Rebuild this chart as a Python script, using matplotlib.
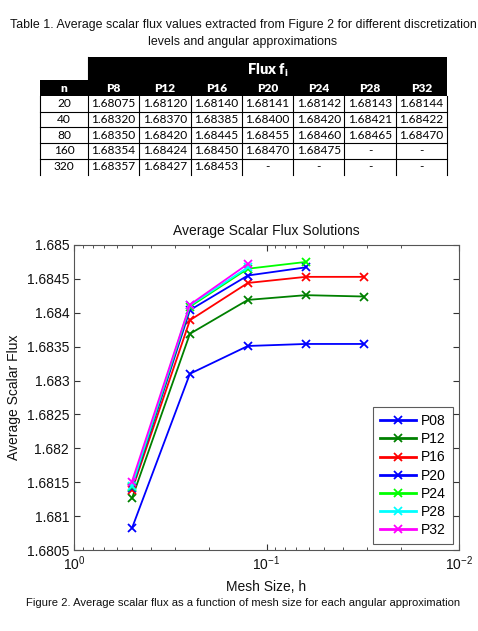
import matplotlib
matplotlib.use("Agg")
import matplotlib.pyplot as plt
from matplotlib.patches import Rectangle
from matplotlib.ticker import FormatStrFormatter, LogLocator, NullFormatter

# ---------------- data ----------------
table_n = ["20", "40", "80", "160", "320"]
table_cols = ["P8", "P12", "P16", "P20", "P24", "P28", "P32"]
table_rows = [
    ["1.68075", "1.68120", "1.68140", "1.68141", "1.68142", "1.68143", "1.68144"],
    ["1.68320", "1.68370", "1.68385", "1.68400", "1.68420", "1.68421", "1.68422"],
    ["1.68350", "1.68420", "1.68445", "1.68455", "1.68460", "1.68465", "1.68470"],
    ["1.68354", "1.68424", "1.68450", "1.68470", "1.68475", "-", "-"],
    ["1.68357", "1.68427", "1.68453", "-", "-", "-", "-"],
]

mesh_h = [0.5, 0.25, 0.125, 0.0625, 0.03125]
series_names = ["P08", "P12", "P16", "P20", "P24", "P28", "P32"]
p08 = [1.68082, 1.68310, 1.68351, 1.68354, 1.68354]
p12 = [1.68126, 1.68369, 1.68419, 1.68426, 1.68424]
p16 = [1.68138, 1.68389, 1.68444, 1.68453, 1.68453]
p20 = [1.68141, 1.68404, 1.68455, 1.68467]
p24 = [1.68143, 1.68409, 1.68465, 1.68475]
p28 = [1.68145, 1.68411, 1.68467]
p32 = [1.68151, 1.68412, 1.68472]
series_values = [p08, p12, p16, p20, p24, p28, p32]
series_colors = ["#0000ff", "#008000", "#ff0000", "#0000ff", "#00ff00", "#00ffff", "#ff00ff"]

W, H = 478, 631
fig = plt.figure(figsize=(W / 100, H / 100), dpi=100)
fig.patch.set_facecolor("white")

# overlay axes in pixel coordinates for table and captions
ov = fig.add_axes([0, 0, 1, 1])
ov.set_xlim(0, W)
ov.set_ylim(H, 0)
ov.axis("off")

sans = ["Liberation Sans", "DejaVu Sans"]
tfont = ["Lato", "DejaVu Sans"]

ov.text(243, 25, "Table 1. Average scalar flux values extracted from Figure 2 for different discretization",
        ha="center", va="center", fontsize=8.9, family=sans, color="#111111")
ov.text(243, 42, "levels and angular approximations",
        ha="center", va="center", fontsize=8.9, family=sans, color="#111111")

x0, xn, x1 = 40, 88, 447
colw = (x1 - xn) / len(table_cols)
y_top, y_hdr, y_dat = 57, 80, 96
rowh = 15.7
# black header blocks
ov.add_patch(Rectangle((xn, y_top), x1 - xn, y_hdr - y_top, color="black", lw=0))
ov.add_patch(Rectangle((x0, y_hdr), x1 - x0, y_dat - y_hdr, color="black", lw=0))
ov.text((xn + x1) / 2, 70, r"Flux f$_\mathregular{i}$", ha="center", va="center",
        fontsize=10.5, fontweight="heavy", color="white", family=tfont)
ov.text((x0 + xn) / 2, 88.5, "n", ha="center", va="center", fontsize=8.6,
        fontweight="heavy", color="white", family=tfont)
for j, c in enumerate(table_cols):
    ov.text(xn + colw * (j + 0.5), 88.5, c, ha="center", va="center", fontsize=8.6,
            fontweight="heavy", color="white", family=tfont)
y_end = y_dat + rowh * len(table_n)
for i, (n, row) in enumerate(zip(table_n, table_rows)):
    yc = y_dat + rowh * (i + 0.5)
    ov.text((x0 + xn) / 2, yc, n, ha="center", va="center", fontsize=8.6, family=tfont)
    for j, v in enumerate(row):
        ov.text(xn + colw * (j + 0.5), yc, v, ha="center", va="center", fontsize=8.6, family=tfont)
    if i > 0:
        ov.plot([x0, x1], [y_dat + rowh * i] * 2, color="black", lw=0.8)
for xv in [x0, xn] + [xn + colw * (j + 1) for j in range(len(table_cols))]:
    ov.plot([xv, xv], [y_dat, y_end], color="black", lw=0.8)
ov.plot([xn, xn], [y_top, y_hdr], color="black", lw=0.8)

ov.text(243, 603, "Figure 2. Average scalar flux as a function of mesh size for each angular approximation",
        ha="center", va="center", fontsize=8.1, family=sans, color="#111111")

# ---------------- chart ----------------
ax = fig.add_axes([74 / W, (H - 550) / H, (459 - 74) / W, (550 - 245) / H])
for name, vals, col in zip(series_names, series_values, series_colors):
    ax.plot(mesh_h[:len(vals)], vals, color=col, lw=1.3, marker="x", ms=6, mew=1.3, label=name)

ax.set_xscale("log")
ax.set_xlim(1, 0.01)
ax.set_ylim(1.6805, 1.685)
ax.set_yticks([1.6805 + 0.0005 * k for k in range(10)])
ax.yaxis.set_major_formatter(FormatStrFormatter("%g"))
ax.xaxis.set_minor_locator(LogLocator(base=10, subs=range(2, 10)))
ax.xaxis.set_minor_formatter(NullFormatter())
ax.tick_params(which="both", direction="in", top=True, right=True, colors="#333333",
               labelcolor="#111111", labelsize=10)
ax.tick_params(which="major", length=4)
ax.tick_params(which="minor", length=2)
for lab in ax.get_xticklabels() + ax.get_yticklabels():
    lab.set_family(sans)
for s in ax.spines.values():
    s.set_color("#555555")
    s.set_linewidth(0.8)

ax.set_title("Average Scalar Flux Solutions", fontsize=10, family=sans, pad=7, color="#111111")
ax.set_xlabel("Mesh Size, h", fontsize=10, family=sans, labelpad=5, color="#111111")
ax.set_ylabel("Average Scalar Flux", fontsize=10, family=sans, labelpad=4, color="#111111")

leg = ax.legend(loc="lower right", bbox_to_anchor=(0.9844, 0.0197), frameon=True,
                fancybox=False, edgecolor="#333333", handlelength=2.6, handletextpad=0.4,
                labelspacing=0.3, borderpad=0.5, borderaxespad=0.0,
                prop={"family": sans, "size": 10})
leg.get_frame().set_linewidth(0.8)
for ln in leg.get_lines():
    ln.set_linewidth(2.0)

fig.savefig("out.png", dpi=100)
